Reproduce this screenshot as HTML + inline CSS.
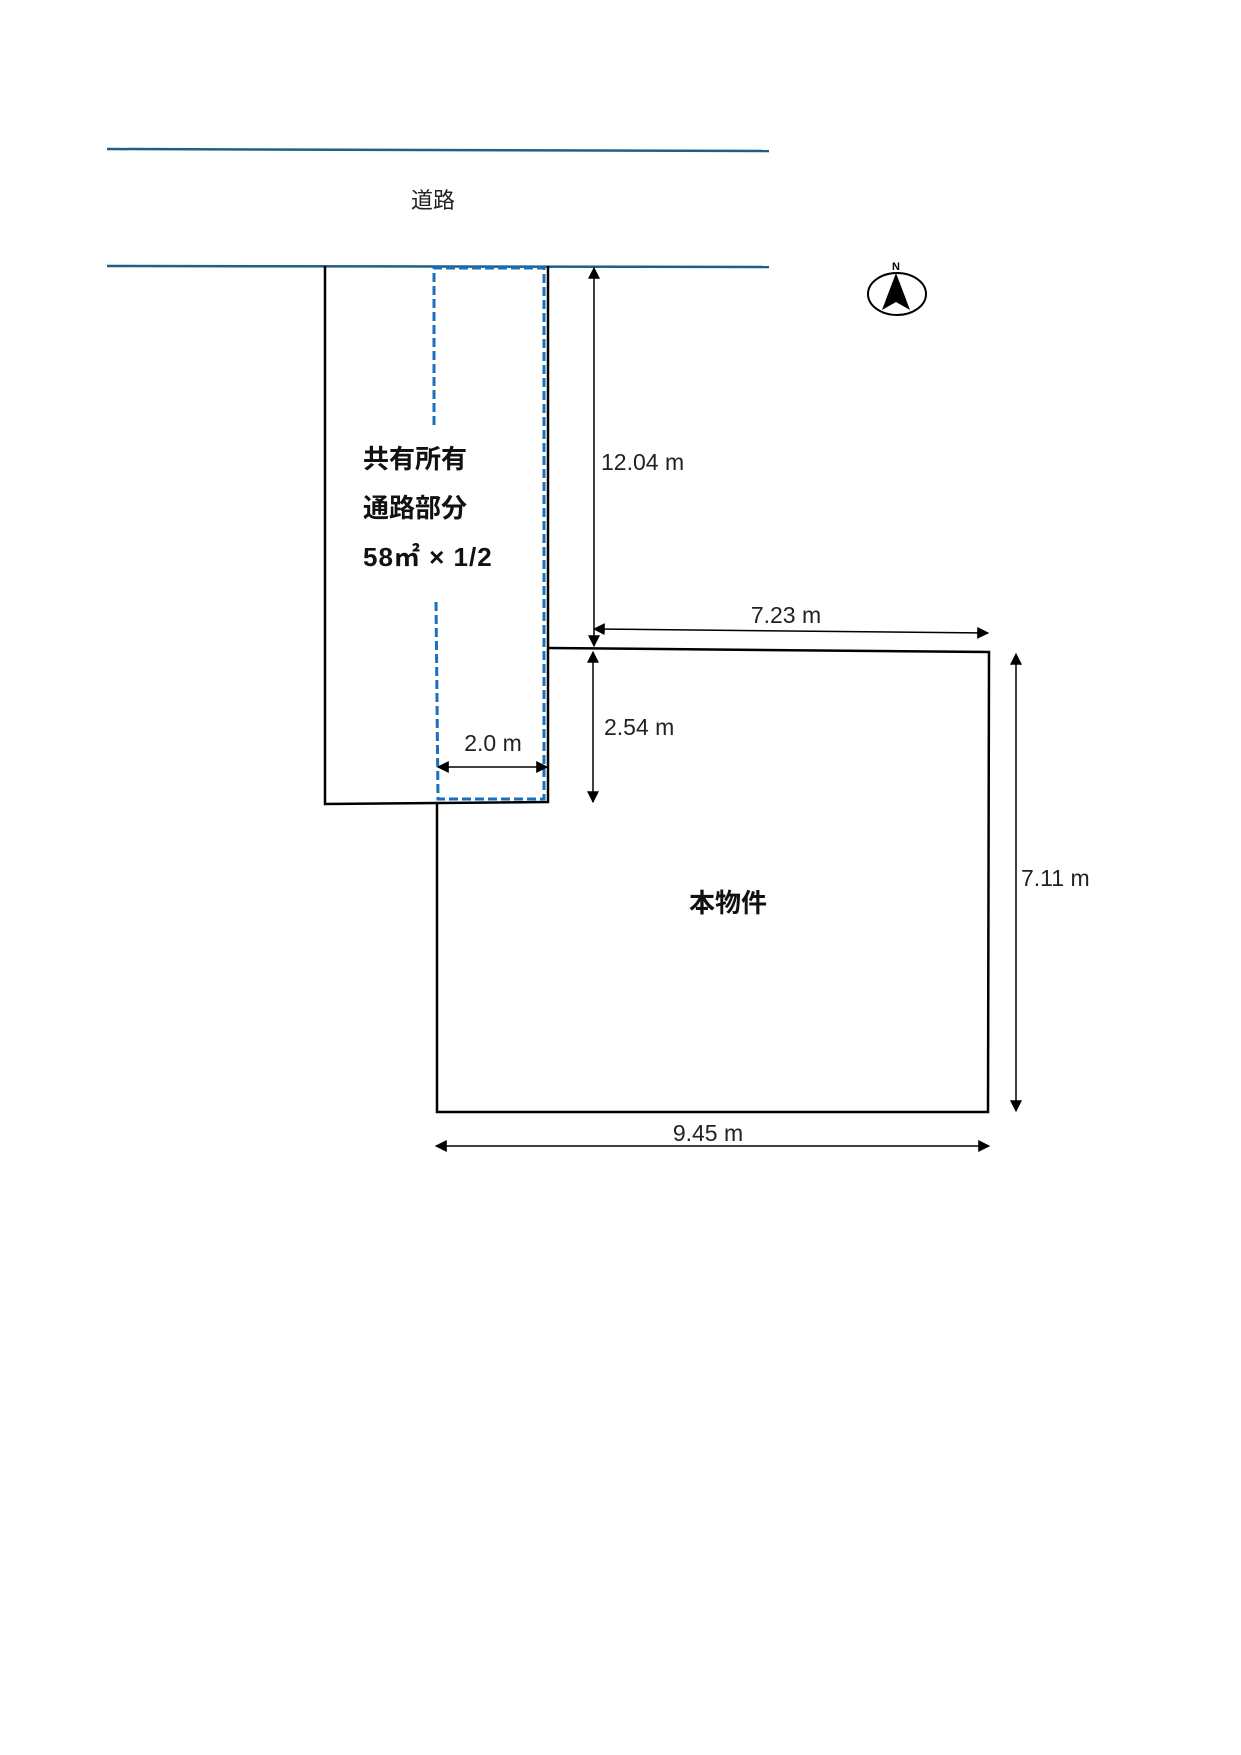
<!DOCTYPE html>
<html><head><meta charset="utf-8"><style>
body{margin:0;background:#fff}
svg{display:block}
.d{font-family:"Liberation Sans","Noto Sans CJK JP",sans-serif;font-size:23px;fill:#222}
.b{font-family:"Liberation Sans","Noto Sans CJK JP",sans-serif;font-size:26px;font-weight:bold;fill:#111}
</style></head><body>
<svg width="1241" height="1755" viewBox="0 0 1241 1755" xmlns="http://www.w3.org/2000/svg">
<defs>
<marker id="a" viewBox="0 0 10 10" refX="9" refY="5" markerWidth="8" markerHeight="8" orient="auto-start-reverse"><path d="M0,0L10,5L0,10z" fill="#000"/></marker>
</defs>
<line x1="107" y1="149" x2="769" y2="151" stroke="#1f5f85" stroke-width="2.5"/>
<line x1="107" y1="266" x2="769" y2="267" stroke="#1f5f85" stroke-width="2.5"/>
<text x="433" y="208" class="d" text-anchor="middle" style="font-size:22px">道路</text>
<g fill="none" stroke="#000" stroke-width="2.5">
<polyline points="325,266 325,804 548,802 548,266"/>
<polyline points="548,648 989,652 988,1112 437,1112 437,802"/>
</g>
<g fill="none" stroke="#1a6fbf" stroke-width="3" stroke-dasharray="9,4">
<polyline points="434,425 434,268 544,268 544,799 438,799 436,600"/>
</g>
<text x="363" y="468" class="b">共有所有</text>
<text x="363" y="517" class="b">通路部分</text>
<text x="363" y="566" class="b" letter-spacing="1">58㎡ × 1/2</text>
<text x="728" y="912" class="b" text-anchor="middle">本物件</text>
<g stroke="#000" stroke-width="1.5" marker-start="url(#a)" marker-end="url(#a)">
<line x1="594" y1="268" x2="594" y2="646"/>
<line x1="593" y1="652" x2="593" y2="802"/>
<line x1="594" y1="629" x2="988" y2="633"/>
<line x1="1016" y1="654" x2="1016" y2="1111"/>
<line x1="436" y1="1146" x2="989" y2="1146"/>
<line x1="438" y1="767" x2="547" y2="767"/>
</g>
<text x="601" y="470" class="d">12.04 m</text>
<text x="604" y="735" class="d">2.54 m</text>
<text x="786" y="623" class="d" text-anchor="middle">7.23 m</text>
<text x="1021" y="886" class="d">7.11 m</text>
<text x="708" y="1141" class="d" text-anchor="middle">9.45 m</text>
<text x="493" y="751" class="d" text-anchor="middle">2.0 m</text>
<ellipse cx="897" cy="294" rx="29" ry="21" fill="none" stroke="#000" stroke-width="2"/>
<text x="896" y="270" text-anchor="middle" style="font-family:'Liberation Sans',sans-serif;font-size:11px;font-weight:bold">N</text>
<path d="M896,273L910,310L896,302L882,310z" fill="#000"/>
</svg>
</body></html>
